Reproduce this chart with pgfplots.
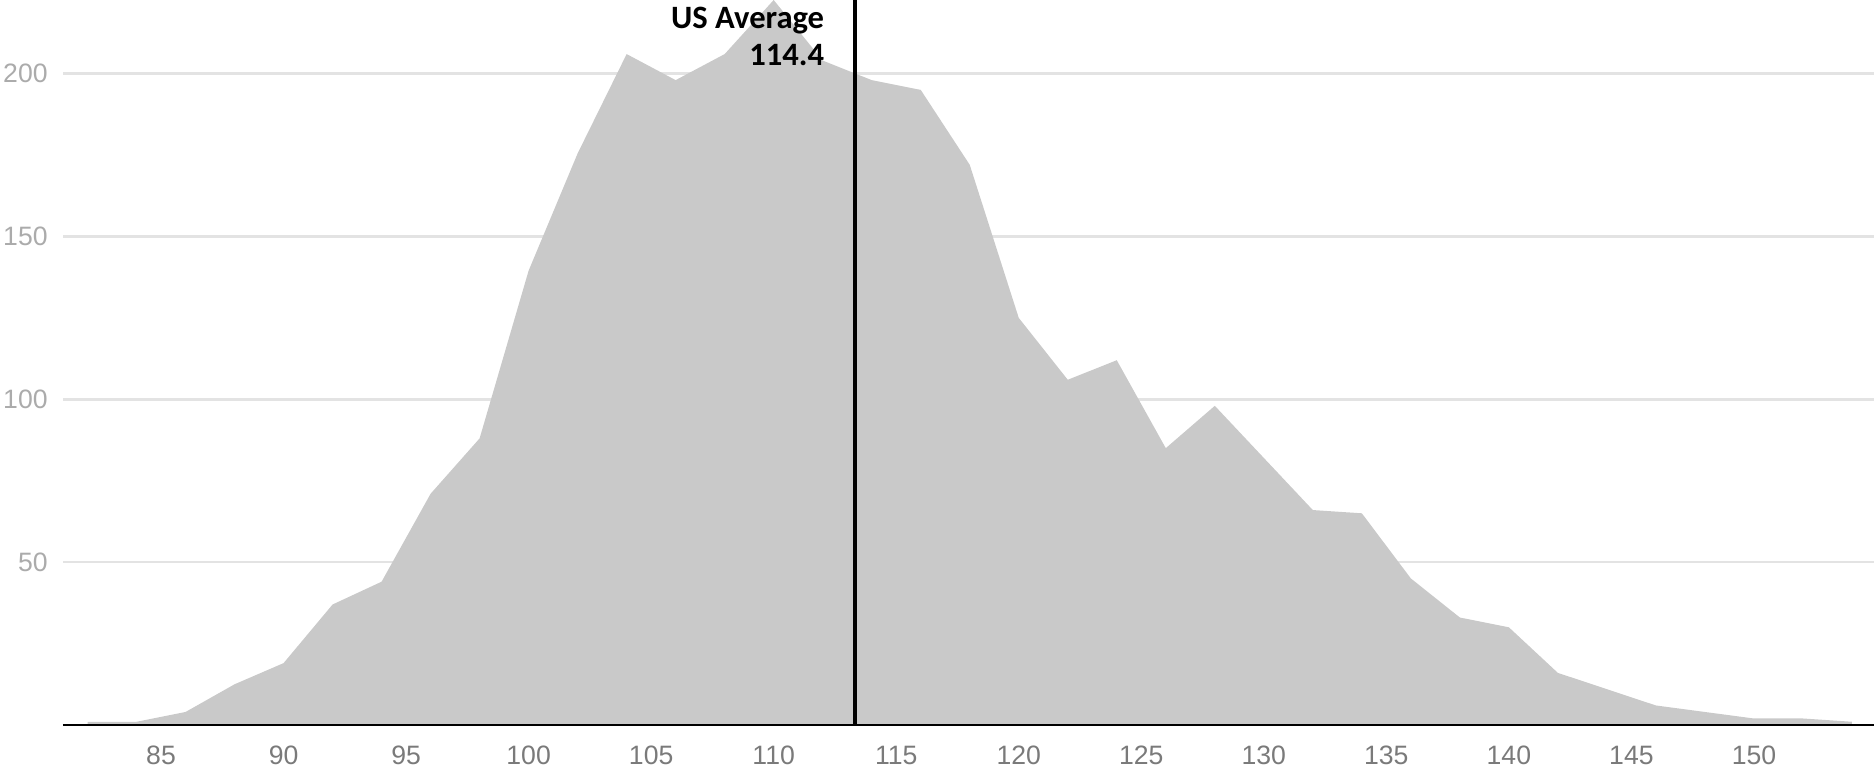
\documentclass[border=0pt]{standalone}
\usepackage{pgfplots}
\pgfplotsset{compat=1.18}
\usepackage{fontspec}
\setmainfont{Liberation Sans}
\newfontfamily\annfont{Carlito}
\definecolor{fillgray}{HTML}{C9C9C9}
\definecolor{gridgray}{HTML}{E3E3E3}
\definecolor{ylab}{HTML}{ABABAB}
\definecolor{xlab}{HTML}{7A7A7A}
\begin{document}
\begin{tikzpicture}
\begin{axis}[
  at={(0,0)}, anchor=south west,
  scale only axis,
  width=905.5pt, height=362.5pt,
  xmin=81, xmax=154.9,
  ymin=0, ymax=222.6,
  xtick={85,90,...,150},
  ytick={50,100,150,200},
  major tick length=0pt,
  axis line style={draw=none},
  ymajorgrids,
  grid style={gridgray, line width=1.3pt},
  /pgf/number format/assume math mode=true,
  xticklabel style={font=\fontsize{13.3}{15}\selectfont, text=xlab, anchor=north, inner sep=0pt, yshift=-10.5pt},
  yticklabel style={font=\fontsize{13.3}{15}\selectfont, text=ylab, anchor=east, inner sep=0pt, xshift=-7.5pt},
]
\addplot[fill=fillgray, draw=none] coordinates {
(82,1) (84,1) (86,4) (88,12.5) (90,19) (92,37) (94,44) (96,71) (98,88)
(100,139.5) (102,175.5) (104,206) (106,198) (108,206) (110,222.6) (112,204)
(114,198) (116,195) (118,172) (120,125) (122,106) (124,112) (126,85)
(128,98) (130,82) (132,66) (134,65) (136,45) (138,33) (140,30) (142,16)
(144,11) (146,6) (148,4) (150,2) (152,2) (154,1)
} \closedcycle;
\addplot[black, line width=2pt] coordinates {(113.3,0) (113.3,222.6)};
\draw[black, line width=1.5pt] (rel axis cs:0,0) -- (rel axis cs:1,0);
\node[anchor=base east, inner sep=0pt, font=\annfont\bfseries\fontsize{16.3}{18}\selectfont] at ([xshift=-15pt, yshift=-14pt]axis cs:113.3,222.6) {US Average};
\node[anchor=base east, inner sep=0pt, font=\annfont\bfseries\fontsize{16.3}{18}\selectfont] at ([xshift=-15pt, yshift=-32.5pt]axis cs:113.3,222.6) {114.4};
\end{axis}
\pgfresetboundingbox
\path (-31.5pt,-24pt) rectangle (905.5pt,362.5pt);
\end{tikzpicture}
\end{document}
